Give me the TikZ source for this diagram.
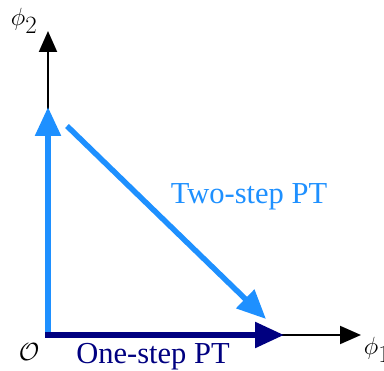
\documentclass[tikz,border=0pt]{standalone}
\usepackage{fontspec}
\setmainfont{Liberation Serif}
\usetikzlibrary{arrows.meta}
\definecolor{lblue}{RGB}{30,144,255}
\definecolor{dblue}{RGB}{0,0,128}
\begin{document}
\begin{tikzpicture}[x=1pt,y=-1pt,
  axis/.style={line width=2pt,-{Triangle[length=21pt,width=18pt]}},
  big/.style={line width=5.5pt,-{Triangle[length=29pt,width=25pt]}},
  lab/.style={font=\fontsize{30.5}{32}\selectfont,inner sep=0pt},
  mlab/.style={font=\fontsize{33}{35}\selectfont,inner sep=0pt}]
\useasboundingbox (0,0) rectangle (384,371);
\coordinate (O) at (48,335);
\coordinate (Y) at (48,31);
\coordinate (X) at (361,335);
\coordinate (Yb) at (48,107);
\coordinate (Xb) at (284,335);
\coordinate (Ds) at (67,126);
\coordinate (De) at (266,319);
\draw[axis] (O) -- (Y);
\draw[axis] (O) -- (X);
\draw[big,lblue] ([yshift=2.75pt]O) -- (Yb);
\draw[big,dblue] ([xshift=-2.75pt]O) -- (Xb);
\draw[big,lblue,line cap=butt] (Ds) -- (De);
\node[mlab] (p2) at (24,21) {$\phi_2$};
\node[mlab] (p1) at (377,350) {$\phi_1$};
\node[mlab] (o) at (29,352) {$\mathcal{O}$};
\node[lab,text=lblue] (two) at (249,197) {Two-step PT};
\node[lab,text=dblue] (one) at (153,357) {One-step PT};
\end{tikzpicture}
\end{document}
